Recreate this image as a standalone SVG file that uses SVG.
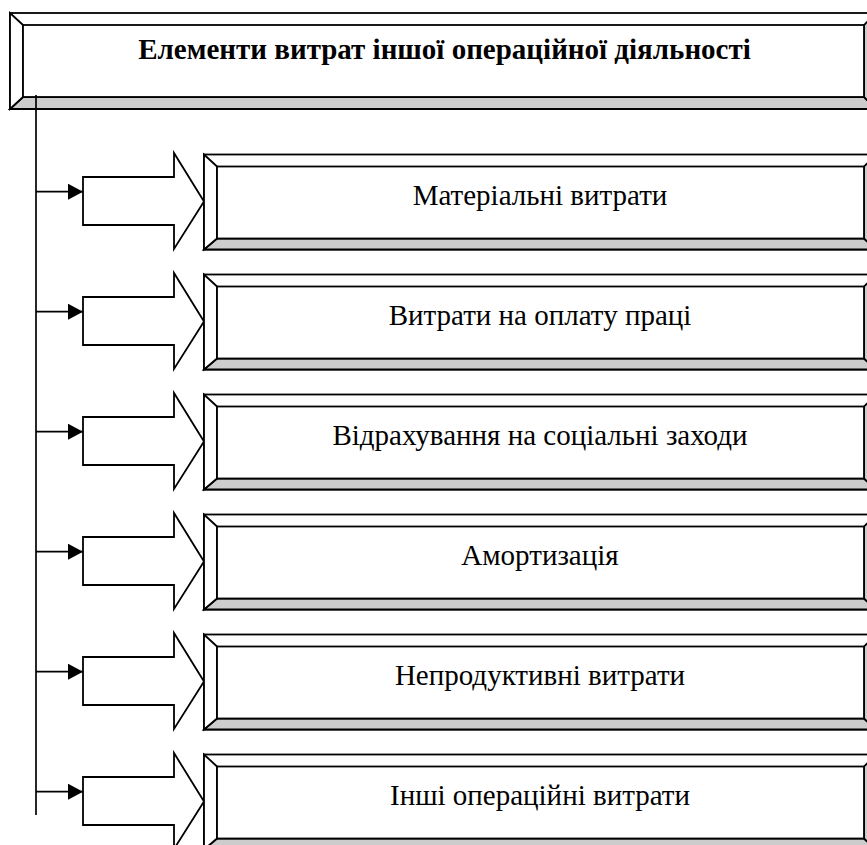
<svg xmlns="http://www.w3.org/2000/svg" width="867" height="845" viewBox="0 0 867 845">
<defs>
<style>
.ln{fill:none;stroke:#000;stroke-width:1.7}
.face{fill:#fff;stroke:#000;stroke-width:1.8;stroke-linejoin:miter}
.shade{fill:#cccccc;stroke:#000;stroke-width:1.8}
.arr{fill:#fff;stroke:#000;stroke-width:1.8;stroke-linejoin:miter}
.t{font-size:29px;fill:#000;text-anchor:middle}
.h{font-size:29px;font-weight:bold;fill:#000;text-anchor:middle}
</style>
<marker id="ah" viewBox="0 0 10 10" refX="10" refY="5" markerWidth="15" markerHeight="16" markerUnits="userSpaceOnUse" orient="auto" preserveAspectRatio="none">
<path d="M0,0 L10,5 L0,10 Z" fill="#000"/>
</marker>
<g id="bevel">
<rect class="face" x="0" y="0" width="672" height="95"/>
<path class="shade" d="M0,95 L13,84 L660,84 L672,95 Z"/>
<path class="shade" d="M672,0 L660,12 L660,84 L672,95 Z"/>
<path class="face" d="M0,0 L13,12 L13,84 L0,95 Z"/>
<rect class="face" x="13" y="12" width="647" height="72"/>
</g>
</defs>

<g id="header">
<rect class="face" x="10" y="13" width="866" height="96"/>
<path class="shade" d="M10,109 L23,97 L864,97 L876,109 Z"/>
<path class="shade" d="M876,13 L864,25 L864,97 L876,109 Z"/>
<path class="face" d="M10,13 L23,25 L23,97 L10,109 Z"/>
<rect class="face" x="23" y="25" width="841" height="72"/>
<text class="h" x="444.5" y="58.5" font-family="Liberation Serif, Times New Roman, serif">Елементи витрат іншої операційної діяльності</text>
</g>

<g id="connectors">
<line class="ln" x1="36" y1="95" x2="36" y2="815"/>
<line class="ln" x1="36" y1="191.7" x2="83" y2="191.7" marker-end="url(#ah)"/>
<line class="ln" x1="36" y1="311.7" x2="83" y2="311.7" marker-end="url(#ah)"/>
<line class="ln" x1="36" y1="431.7" x2="83" y2="431.7" marker-end="url(#ah)"/>
<line class="ln" x1="36" y1="551.7" x2="83" y2="551.7" marker-end="url(#ah)"/>
<line class="ln" x1="36" y1="671.7" x2="83" y2="671.7" marker-end="url(#ah)"/>
<line class="ln" x1="36" y1="791.7" x2="83" y2="791.7" marker-end="url(#ah)"/>
</g>

<g id="node1" transform="translate(0,154.5)">
<path class="arr" d="M83,22.5 L174,22.5 L174,-1.5 L204,47 L174,94.5 L174,70.5 L83,70.5 Z"/>
<use href="#bevel" x="204" y="0"/>
<text class="t" x="540" y="50.5" font-family="Liberation Serif, Times New Roman, serif">Матеріальні витрати</text>
</g>
<g id="node2" transform="translate(0,274.5)">
<path class="arr" d="M83,22.5 L174,22.5 L174,-1.5 L204,47 L174,94.5 L174,70.5 L83,70.5 Z"/>
<use href="#bevel" x="204" y="0"/>
<text class="t" x="540" y="50.5" font-family="Liberation Serif, Times New Roman, serif">Витрати на оплату праці</text>
</g>
<g id="node3" transform="translate(0,394.5)">
<path class="arr" d="M83,22.5 L174,22.5 L174,-1.5 L204,47 L174,94.5 L174,70.5 L83,70.5 Z"/>
<use href="#bevel" x="204" y="0"/>
<text class="t" x="540" y="50.5" font-family="Liberation Serif, Times New Roman, serif">Відрахування на соціальні заходи</text>
</g>
<g id="node4" transform="translate(0,514.5)">
<path class="arr" d="M83,22.5 L174,22.5 L174,-1.5 L204,47 L174,94.5 L174,70.5 L83,70.5 Z"/>
<use href="#bevel" x="204" y="0"/>
<text class="t" x="540" y="50.5" font-family="Liberation Serif, Times New Roman, serif">Амортизація</text>
</g>
<g id="node5" transform="translate(0,634.5)">
<path class="arr" d="M83,22.5 L174,22.5 L174,-1.5 L204,47 L174,94.5 L174,70.5 L83,70.5 Z"/>
<use href="#bevel" x="204" y="0"/>
<text class="t" x="540" y="50.5" font-family="Liberation Serif, Times New Roman, serif">Непродуктивні витрати</text>
</g>
<g id="node6" transform="translate(0,754.5)">
<path class="arr" d="M83,22.5 L174,22.5 L174,-1.5 L204,47 L174,94.5 L174,70.5 L83,70.5 Z"/>
<use href="#bevel" x="204" y="0"/>
<text class="t" x="540" y="50.5" font-family="Liberation Serif, Times New Roman, serif">Інші операційні витрати</text>
</g>
</svg>
